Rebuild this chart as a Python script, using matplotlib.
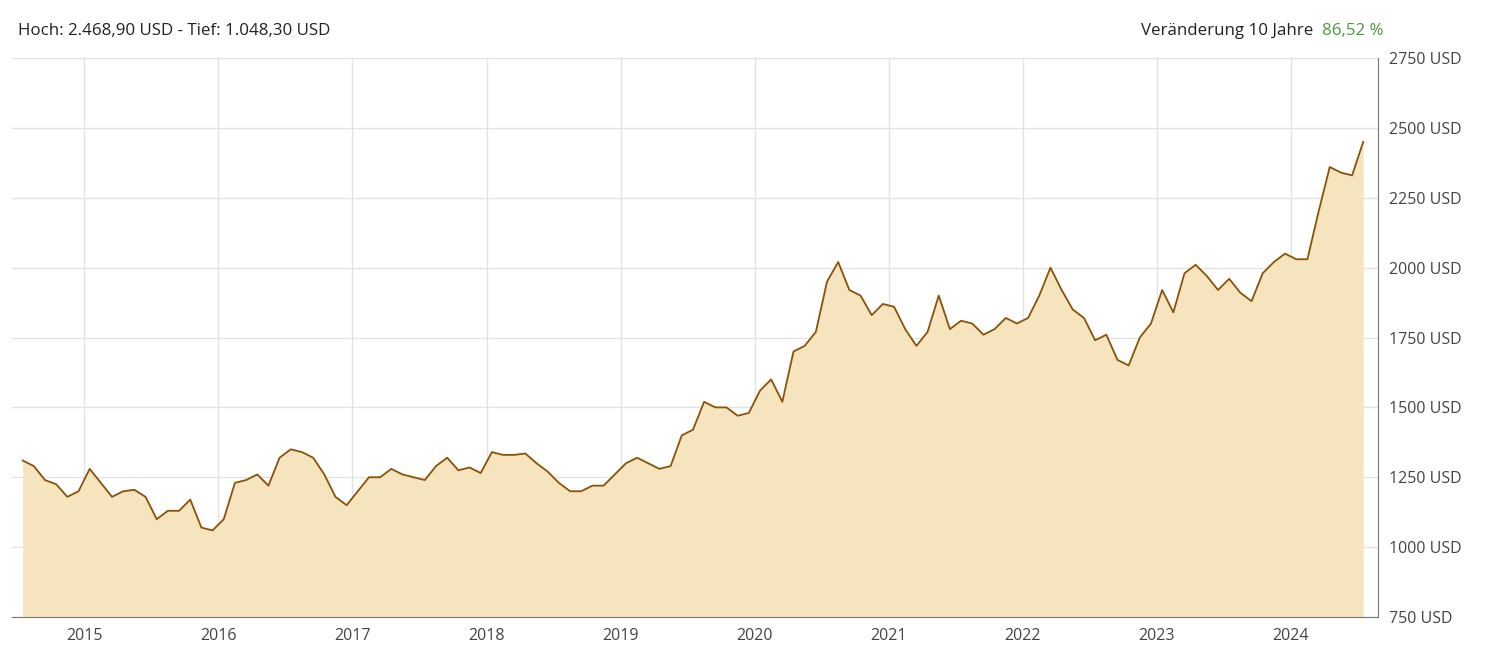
import matplotlib
matplotlib.use("Agg")
import matplotlib.pyplot as plt
import numpy as np

plt.rcParams['font.family'] = ['Open Sans', 'DejaVu Sans']

start_year = 2014
start_month = 7
prices = [1310,1290,1240,1225,1180,1200,
 1280,1230,1180,1200,1205,1180,1100,1130,1130,1170,1070,1060,
 1100,1230,1240,1260,1220,1320,1350,1340,1320,1260,1180,1150,
 1200,1250,1250,1280,1260,1250,1240,1290,1320,1275,1285,1265,
 1340,1330,1330,1335,1300,1270,1230,1200,1200,1220,1220,1260,
 1300,1320,1300,1280,1290,1400,1420,1520,1500,1500,1470,1480,
 1560,1600,1520,1700,1720,1770,1950,2020,1920,1900,1830,1870,
 1860,1780,1720,1770,1900,1780,1810,1800,1760,1780,1820,1800,
 1820,1900,2000,1920,1850,1820,1740,1760,1670,1650,1750,1800,
 1920,1840,1980,2010,1970,1920,1960,1910,1880,1980,2020,2050,
 2030,2030,2200,2360,2340,2330,2450]
yticks = [750,1000,1250,1500,1750,2000,2250,2500,2750]
years = list(range(2015,2025))

x = np.array([start_year + (start_month-1+i)/12 + 0.04 for i in range(len(prices))])
y = np.array(prices)

fig = plt.figure(figsize=(14.92,6.59), dpi=100)
ax = fig.add_axes([0.008,0.0637,0.9156,0.8483])
ax.fill_between(x, y, 750, color='#F5E4BE', lw=0)
ax.plot(x, y, color='#8B5206', lw=1.3)
ax.set_xlim(2014.46, 2024.65)
ax.set_ylim(750, 2750)
ax.set_xticks(years)
ax.set_xticklabels([str(v) for v in years])
ax.set_yticks(yticks)
ax.set_yticklabels([f"{v} USD" for v in yticks])
ax.yaxis.tick_right()
ax.grid(color='#E3E3E3', lw=1)
ax.set_axisbelow(True)
for s in ['top','left']:
    ax.spines[s].set_visible(False)
for s in ['right','bottom']:
    ax.spines[s].set_color('#777777')
ax.tick_params(colors='#444444', labelsize=11.5, length=0, pad=8)
fig.text(0.012, 0.953, "Hoch: 2.468,90 USD - Tief: 1.048,30 USD", fontsize=12.2, color='#222222', va='center')
fig.text(0.8800, 0.953, "Veränderung 10 Jahre", fontsize=12.2, color='#222222', va='center', ha='right')
fig.text(0.9275, 0.953, "86,52 %", fontsize=12.2, color='#4C9A3C', va='center', ha='right')
fig.savefig("out.png", dpi=100)
